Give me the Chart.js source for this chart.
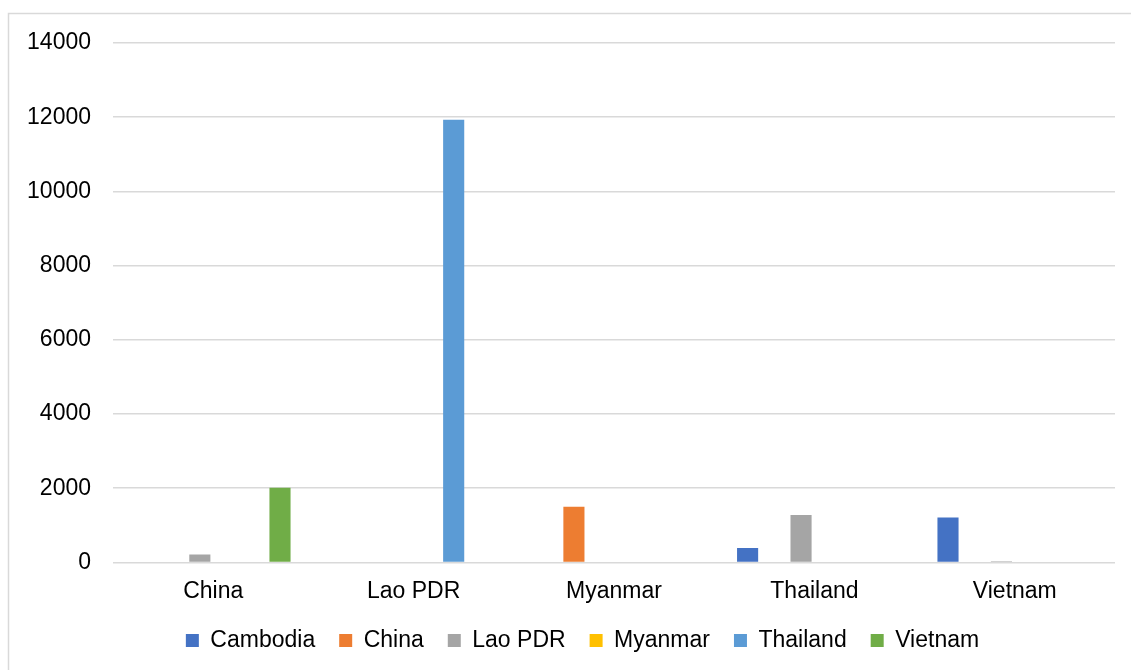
<!DOCTYPE html>
<html>
<head>
<meta charset="utf-8">
<script src="https://cdn.jsdelivr.net/npm/chart.js@4.4.1/dist/chart.umd.min.js"></script>
<style>
  html, body { margin: 0; padding: 0; background: #ffffff; }
  #wrap { position: relative; width: 1131px; height: 670px; }
</style>
</head>
<body>
<div id="wrap"><canvas id="c" width="1131" height="670"></canvas></div>
<script>
// Destination countries along the x axis
const categories = ['China', 'Lao PDR', 'Myanmar', 'Thailand', 'Vietnam'];

// One series per origin country (null = no flow)
const cambodia = [null, null, null, 390, 1210];
const china    = [null, null, 1500, null, null];
const laoPdr   = [210, null, null, 1280, 30];
const myanmar  = [null, null, null, null, null];
const thailand = [null, 11930, null, null, null];
const vietnam  = [2010, null, null, null, null];

const yTicks = [0, 2000, 4000, 6000, 8000, 10000, 12000, 14000];

const seriesNames  = ['Cambodia', 'China', 'Lao PDR', 'Myanmar', 'Thailand', 'Vietnam'];
const seriesValues = [cambodia, china, laoPdr, myanmar, thailand, vietnam];
const seriesColors = ['#4472C4', '#ED7D31', '#A5A5A5', '#FFC000', '#5B9BD5', '#70AD47'];

const FONT = '"Liberation Sans", Arial, sans-serif';

// Light frame around the whole chart
const framePlugin = {
  id: 'frame',
  beforeDraw(chart) {
    const ctx = chart.ctx;
    ctx.save();
    ctx.strokeStyle = '#d9d9d9';
    ctx.lineWidth = 1.5;
    ctx.strokeRect(8.5, 13.5, 1300, 1000);
    ctx.restore();
  }
};

// Centre the legend under the plot area rather than the whole canvas
const legendShift = {
  id: 'legendShift',
  afterLayout(chart) {
    const lg = chart.legend;
    if (lg) { lg.left += 25; lg.right += 25; }
  }
};

new Chart(document.getElementById('c'), {
  type: 'bar',
  data: {
    labels: categories,
    datasets: seriesNames.map((name, i) => ({
      label: name,
      data: seriesValues[i],
      backgroundColor: seriesColors[i],
      borderWidth: 0,
      categoryPercentage: 0.8,
      barPercentage: 0.79
    }))
  },
  options: {
    responsive: false,
    animation: false,
    layout: { padding: { left: 0, right: 16, top: 43, bottom: 8 } },
    plugins: {
      tooltip: { enabled: false },
      legend: {
        position: 'bottom',
        labels: {
          boxWidth: 13,
          boxHeight: 13,
          padding: 24,
          color: '#000000',
          font: { family: FONT, size: 23 }
        }
      }
    },
    scales: {
      x: {
        afterFit(scale) { scale.height = scale.height - 15; },
        grid: { display: false, drawTicks: false },
        border: { display: false },
        ticks: { color: '#000000', padding: 15, font: { family: FONT, size: 23 } }
      },
      y: {
        min: 0,
        max: 14000,
        afterBuildTicks(scale) { scale.ticks = yTicks.map(v => ({ value: v })); },
        afterFit(scale) { scale.width = 113; },
        grid: { color: '#d9d9d9', lineWidth: 1.5, drawTicks: false },
        border: { display: false },
        ticks: {
          color: '#000000',
          padding: 22,
          font: { family: FONT, size: 23 },
          callback: v => String(v)
        }
      }
    }
  },
  plugins: [framePlugin, legendShift]
});
</script>
</body>
</html>
